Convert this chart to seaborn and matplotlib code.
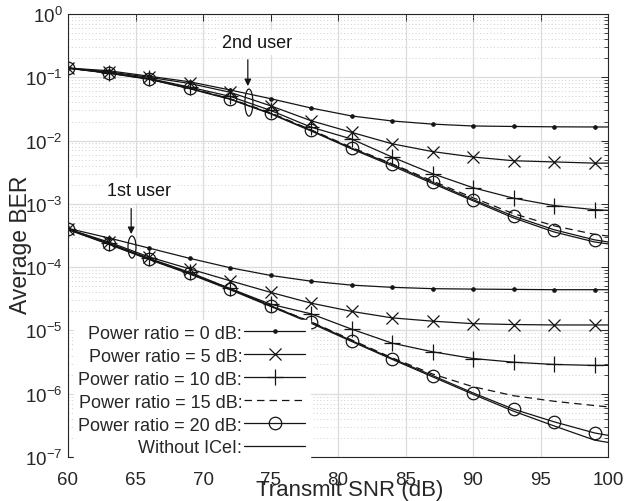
import numpy as np
import pandas as pd
import matplotlib
matplotlib.use("Agg")
import matplotlib.pyplot as plt
from matplotlib.patches import Ellipse
import seaborn as sns

snr = [60, 63, 66, 69, 72, 75, 78, 81, 84, 87, 90, 93, 96, 99, 100]

labels = ["Power ratio = 0 dB:", "Power ratio = 5 dB:", "Power ratio = 10 dB:",
          "Power ratio = 15 dB:", "Power ratio = 20 dB:", "Without ICeI:"]

# 2nd user
u2_p0 = [0.140, 0.127, 0.104, 0.085, 0.063, 0.046, 0.0327, 0.0245, 0.0204, 0.0182, 0.0170, 0.0167, 0.0165, 0.0164, 0.0164]
u2_p5 = [0.140, 0.122, 0.100, 0.080, 0.058, 0.0355, 0.0206, 0.0135, 0.0089, 0.0067, 0.0055, 0.0048, 0.0046, 0.0044, 0.0044]
u2_p10 = [0.140, 0.118, 0.096, 0.070, 0.050, 0.030, 0.0163, 0.0106, 0.0055, 0.0030, 0.0018, 0.00123, 0.00094, 0.00081, 0.00079]
u2_p15 = [0.140, 0.117, 0.094, 0.068, 0.046, 0.0275, 0.0148, 0.0078, 0.0043, 0.0023, 0.00125, 0.00070, 0.00045, 0.00033, 0.00031]
u2_p20 = [0.140, 0.117, 0.094, 0.067, 0.0454, 0.027, 0.0145, 0.0076, 0.0042, 0.0022, 0.00117, 0.00064, 0.00039, 0.00027, 0.00025]
u2_noic = [0.139, 0.116, 0.093, 0.066, 0.045, 0.0265, 0.0142, 0.0074, 0.0040, 0.0021, 0.00112, 0.00060, 0.00036, 0.00025, 0.000233]

# 1st user
u1_p0 = [4.1e-4, 2.9e-4, 2.0e-4, 1.38e-4, 9.8e-5, 7.4e-5, 6.0e-5, 5.2e-5, 4.8e-5, 4.57e-5, 4.5e-5, 4.45e-5, 4.4e-5, 4.4e-5, 4.4e-5]
u1_p5 = [4.0e-4, 2.5e-4, 1.45e-4, 9.4e-5, 6.1e-5, 4.0e-5, 2.7e-5, 2.0e-5, 1.58e-5, 1.4e-5, 1.28e-5, 1.24e-5, 1.22e-5, 1.22e-5, 1.22e-5]
u1_p10 = [4.0e-4, 2.4e-4, 1.38e-4, 8.3e-5, 4.6e-5, 2.6e-5, 1.83e-5, 1.05e-5, 6.3e-6, 4.6e-6, 3.6e-6, 3.15e-6, 2.9e-6, 2.8e-6, 2.8e-6]
u1_p15 = [4.0e-4, 2.35e-4, 1.35e-4, 8.0e-5, 4.55e-5, 2.46e-5, 1.37e-5, 7.1e-6, 3.7e-6, 2.05e-6, 1.29e-6, 9.3e-7, 7.6e-7, 6.5e-7, 6.2e-7]
u1_p20 = [4.0e-4, 2.34e-4, 1.35e-4, 8.0e-5, 4.55e-5, 2.46e-5, 1.35e-5, 6.9e-6, 3.6e-6, 1.94e-6, 1.03e-6, 5.7e-7, 3.6e-7, 2.4e-7, 2.2e-7]
u1_noic = [3.9e-4, 2.3e-4, 1.32e-4, 7.8e-5, 4.4e-5, 2.4e-5, 1.3e-5, 6.7e-6, 3.5e-6, 1.85e-6, 9.8e-7, 5.3e-7, 3.1e-7, 1.85e-7, 1.7e-7]

u2 = [u2_p0, u2_p5, u2_p10, u2_p15, u2_p20, u2_noic]
u1 = [u1_p0, u1_p5, u1_p10, u1_p15, u1_p20, u1_noic]

styles = [
    dict(marker="o", ms=2.5, ls="-", mfc="#151515"),
    dict(marker="x", ms=9, ls="-", mew=0.9),
    dict(marker="+", ms=11, ls="-", mew=0.9),
    dict(marker=None, ls=(0, (6, 4))),
    dict(marker="o", ms=9, ls="-", mfc="none", mew=0.9),
    dict(marker=None, ls="-"),
]

sns.set_theme(style="white")
plt.rcParams["font.family"] = ["Liberation Sans", "DejaVu Sans"]
plt.rcParams["mathtext.fontset"] = "custom"
plt.rcParams["mathtext.rm"] = "Liberation Sans"
plt.rcParams["mathtext.it"] = "Liberation Sans:italic"

fig = plt.figure(figsize=(6.24, 5.02), dpi=100)
ax = fig.add_axes([68/624, 1-458/502, 540/624, 443/502])

for series_set, lab_on in ((u2, True), (u1, False)):
    for vals, st, lab in zip(series_set, styles, labels):
        df = pd.DataFrame({"snr": snr, "ber": vals})
        kw = dict(color="#151515", lw=0.9, linestyle=st["ls"])
        if st.get("marker"):
            kw.update(marker=st["marker"], markersize=st["ms"],
                      markeredgewidth=st.get("mew", 0.8),
                      markerfacecolor=st.get("mfc", "none"),
                      markeredgecolor="#151515",
                      markevery=slice(0, 14))
        sns.lineplot(data=df, x="snr", y="ber", ax=ax, label=lab if lab_on else None,
                     legend=False, **kw)

ax.set_yscale("log")
ax.set_xlim(60, 100)
ax.set_ylim(1e-7, 1)
ax.set_xticks([60, 65, 70, 75, 80, 85, 90, 95, 100])
ax.set_yticks([1e-7, 1e-6, 1e-5, 1e-4, 1e-3, 1e-2, 1e-1, 1e0])
ax.yaxis.set_minor_locator(matplotlib.ticker.LogLocator(base=10, subs=np.arange(2, 10), numticks=20))
ax.yaxis.set_minor_formatter(matplotlib.ticker.NullFormatter())

ax.grid(True, which="major", color="#dcdcdc", lw=0.9, ls="-")
ax.grid(True, which="minor", axis="y", color="#cfcfcf", lw=0.7, ls=(0, (1, 2.5)))
ax.set_axisbelow(True)

ax.tick_params(which="both", direction="in", top=True, right=True, labelsize=13.5,
               colors="#262626")
ax.tick_params(axis="x", pad=10)
ax.tick_params(axis="y", pad=4)
ax.tick_params(which="major", length=5, width=0.7)
ax.tick_params(which="minor", length=3, width=0.6)
for sp in ax.spines.values():
    sp.set_color("#262626")
    sp.set_linewidth(0.8)

ax.set_xlabel("Transmit SNR (dB)", fontsize=16, color="#262626")
ax.xaxis.set_label_coords(0.522, -0.0497)
ax.set_ylabel("Average BER", fontsize=16.5, color="#262626")
ax.yaxis.set_label_coords(-0.067, 0.481)

leg = ax.legend(loc="lower right", bbox_to_anchor=(0.448, -0.009), markerfirst=False,
                fontsize=13, handlelength=3.4, handletextpad=0.1, labelspacing=0.33,
                frameon=True, fancybox=False, borderpad=0.25, borderaxespad=0.0)
leg.get_frame().set_edgecolor("white")
leg.get_frame().set_facecolor("white")
leg.get_frame().set_alpha(1.0)

# Annotations
ax.annotate("", xy=(0.333, 0.831), xytext=(0.333, 0.903), xycoords="axes fraction",
            arrowprops=dict(arrowstyle="-|>", color="#151515", lw=0.9, mutation_scale=10))
ax.text(0.35, 0.936, "2nd user", transform=ax.transAxes, ha="center", va="center",
        fontsize=13, color="#151515",
        bbox=dict(facecolor="white", edgecolor="none", pad=3))
ax.add_patch(Ellipse((0.335, 0.800), 0.0148, 0.061, transform=ax.transAxes,
                     fill=False, ec="#151515", lw=0.9))

ax.annotate("", xy=(0.117, 0.497), xytext=(0.117, 0.567), xycoords="axes fraction",
            arrowprops=dict(arrowstyle="-|>", color="#151515", lw=0.9, mutation_scale=10))
ax.text(0.131, 0.601, "1st user", transform=ax.transAxes, ha="center", va="center",
        fontsize=13, color="#151515",
        bbox=dict(facecolor="white", edgecolor="none", pad=3))
ax.add_patch(Ellipse((0.1185, 0.474), 0.0148, 0.05, transform=ax.transAxes,
                     fill=False, ec="#151515", lw=0.9))

fig.savefig("out.png", dpi=100)
